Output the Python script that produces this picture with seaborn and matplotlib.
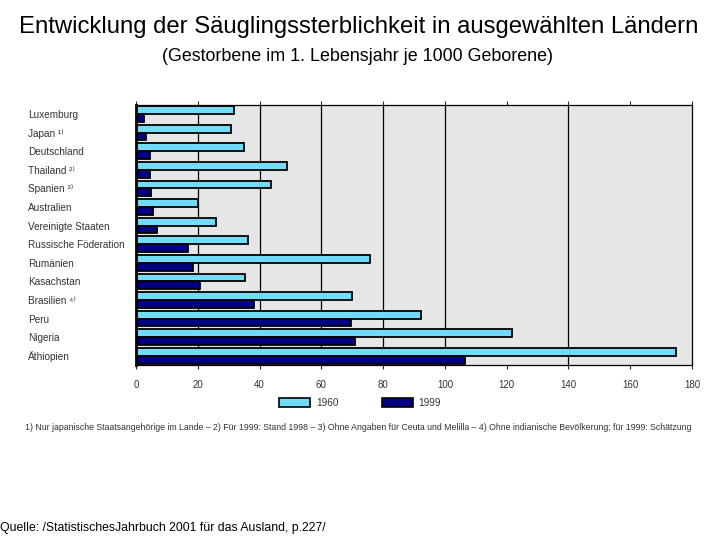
import seaborn as sns
import matplotlib.pyplot as plt
import pandas as pd
from matplotlib.patches import Patch

laender = ['Luxemburg', 'Japan ¹⁾', 'Deutschland', 'Thailand ²⁾', 'Spanien ³⁾',
           'Australien', 'Vereinigte Staaten', 'Russische Föderation', 'Rumänien',
           'Kasachstan', 'Brasilien ⁴⁾', 'Peru', 'Nigeria', 'Äthiopien']
werte_1960 = [31.6, 30.7, 34.9, 48.8, 43.8, 20.1, 25.8, 36.4, 75.8, 35.4, 69.9, 92.2, 121.8, 174.9]
werte_1999 = [2.5, 3.1, 4.5, 4.5, 4.9, 5.5, 6.8, 16.8, 18.4, 20.7, 38.2, 69.7, 71.0, 106.5]
jahre = ['1960', '1999']
xticks = [0, 20, 40, 60, 80, 100, 120, 140, 160, 180]

hell = '#70dcf8'
dunkel = '#000080'

df = pd.DataFrame({
    'Land': laender * 2,
    'Wert': werte_1960 + werte_1999,
    'Jahr': [jahre[0]] * len(laender) + [jahre[1]] * len(laender),
})

sns.set_style('white')
plt.rcParams['font.family'] = ['Liberation Sans', 'DejaVu Sans']
plt.rcParams['text.color'] = 'black'

fig = plt.figure(figsize=(7.2, 5.4), dpi=100)
ax = fig.add_axes([0.189, 0.324, 0.772, 0.482])
ax.set_facecolor('#e6e6e6')

for g in [20, 40, 60, 80, 100, 140]:
    ax.axvline(g, color='black', lw=0.9, zorder=0)

sns.barplot(data=df, y='Land', x='Wert', hue='Jahr', palette=[hell, dunkel],
            orient='h', width=0.84, saturation=1, edgecolor='black', linewidth=1.3,
            legend=False, ax=ax, zorder=2)

ax.set_xlim(0, 180)
ax.set_xticks(xticks)
ax.set_xlabel('')
ax.set_ylabel('')
for s in ax.spines.values():
    s.set_color('black')
    s.set_linewidth(0.9)
ax.spines['left'].set_linewidth(2)
ax.tick_params(axis='x', direction='out', length=3, width=0.8, labelsize=7,
               labelcolor='#333333', top=True, bottom=True, pad=8)
ax.tick_params(axis='y', length=0, labelsize=7.2, labelcolor='#333333', pad=78)
for lab in ax.get_yticklabels():
    lab.set_horizontalalignment('left')

fig.text(0.498, 0.95, 'Entwicklung der Säuglingssterblichkeit in ausgewählten Ländern',
         ha='center', va='center', fontsize=17.2)
fig.text(0.496, 0.896, '(Gestorbene im 1. Lebensjahr je 1000 Geborene)',
         ha='center', va='center', fontsize=12.9)

handles = [Patch(facecolor=hell, edgecolor='black', lw=1.2, label=jahre[0]),
           Patch(facecolor=dunkel, edgecolor='black', lw=1.2, label=jahre[1])]
leg = fig.legend(handles=handles, loc='center', bbox_to_anchor=(0.5, 0.254), ncol=2,
                 frameon=False, fontsize=7.2, handlelength=3.1, handleheight=1.1,
                 columnspacing=4.3, handletextpad=0.6)
for t in leg.get_texts():
    t.set_color('#333333')

fig.text(0.035, 0.209,
         '1) Nur japanische Staatsangehörige im Lande – 2) Für 1999: Stand 1998 – '
         '3) Ohne Angaben für Ceuta und Melilla – 4) Ohne indianische Bevölkerung; für 1999: Schätzung',
         ha='left', va='center', fontsize=6.3, color='#333333')

fig.text(0.0, 0.022, 'Quelle: /StatistischesJahrbuch 2001 für das Ausland, p.227/',
         ha='left', va='center', fontsize=8.8)

fig.savefig('out.png', dpi=100)
